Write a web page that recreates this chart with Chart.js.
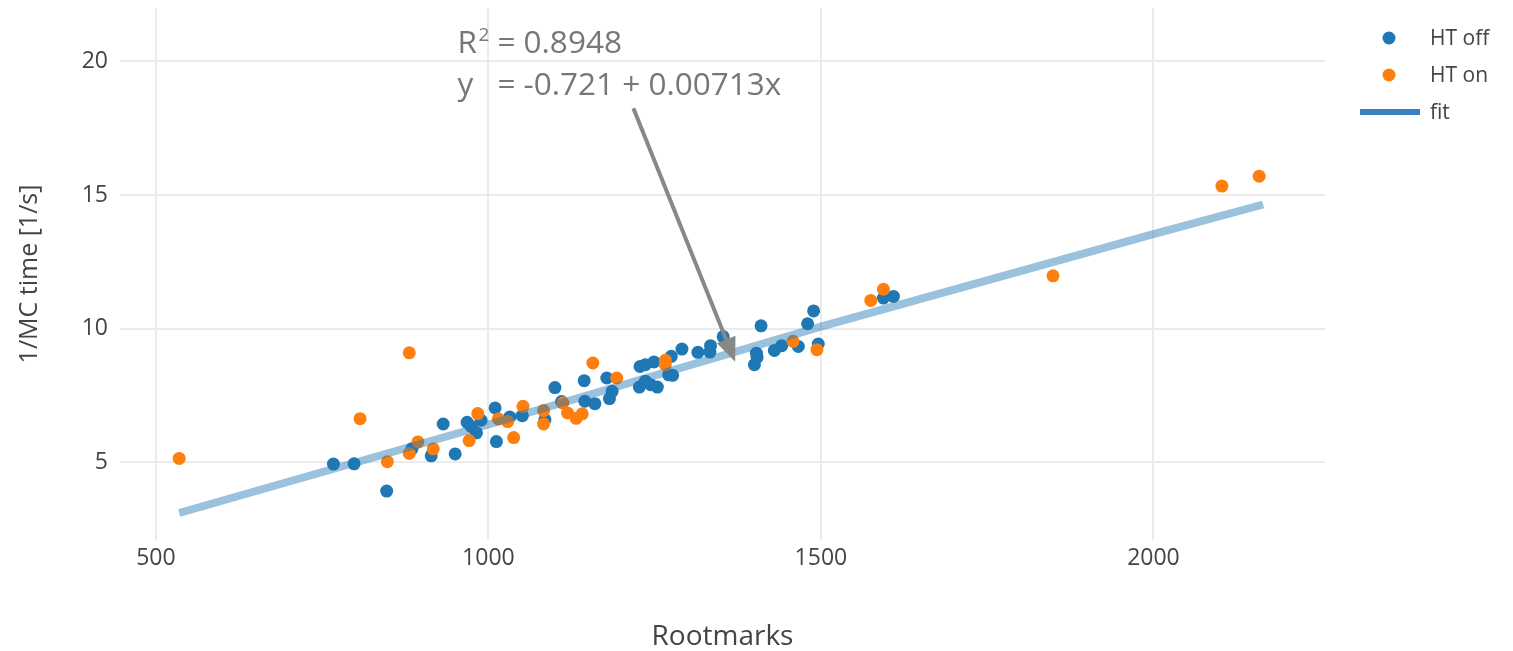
<!DOCTYPE html>
<html>
<head>
<meta charset="utf-8">
<script src="https://cdn.jsdelivr.net/npm/chart.js@4.4.1/dist/chart.umd.min.js"></script>
<style>
    html, body { margin: 0; padding: 0; background: #fff; }
</style>
</head>
<body>
<canvas id="fitChart" width="1513" height="651"></canvas>
<script>
// Data
const htOffX = [767, 798, 847, 885, 914, 932, 950, 968, 974, 982, 989, 1010, 1012, 1032, 1051, 1085, 1100, 1110,
    1144, 1145, 1160, 1178, 1182, 1186, 1227, 1228, 1236, 1236, 1244, 1249, 1254, 1271, 1275, 1277, 1291, 1315,
    1334, 1333, 1353, 1400, 1403, 1404, 1410, 1430, 1441, 1466, 1480, 1489, 1496, 1594, 1609];
const htOffY = [4.94, 4.95, 3.93, 5.51, 5.25, 6.44, 5.32, 6.50, 6.35, 6.11, 6.58, 7.04, 5.78, 6.70, 6.75, 6.60, 7.80, 7.28,
    8.06, 7.29, 7.20, 8.16, 7.39, 7.66, 7.82, 8.59, 8.66, 8.04, 7.91, 8.76, 7.82, 8.28, 8.97, 8.26, 9.24, 9.12,
    9.37, 9.13, 9.71, 8.66, 9.09, 8.93, 10.11, 9.19, 9.37, 9.34, 10.19, 10.67, 9.43, 11.15, 11.21];

const htOnX = [535, 807, 848, 881, 881, 894, 917, 971, 984, 1015, 1029, 1038, 1052, 1083, 1083, 1112, 1119, 1132,
    1141, 1157, 1193, 1266, 1266, 1458, 1494, 1575, 1594, 1849, 2103, 2159];
const htOnY = [5.15, 6.64, 5.03, 5.34, 9.10, 5.77, 5.51, 5.82, 6.83, 6.63, 6.53, 5.93, 7.10, 6.94, 6.44, 7.22, 6.85, 6.65,
    6.82, 8.72, 8.16, 8.82, 8.66, 9.53, 9.22, 11.06, 11.48, 11.98, 15.34, 15.71];

// fit line as drawn in the picture
const fitX = [535, 1000, 1500, 2000, 2165];
const fitY = [3.11, 6.42, 10.08, 13.54, 14.65];

const xTicks = [500, 1000, 1500, 2000];
const yTicks = [5, 10, 15, 20];

// annotation text and arrow (data coords)
const fitR2 = "0.8948";
const fitEquation = "= -0.721 + 0.00713x";
const arrowFrom = [1218, 18.25];
const arrowTo = [1371, 8.77];

const toPoints = (xs, ys) => xs.map((x, i) => ({ x: x, y: ys[i] }));

Chart.defaults.font.family = '"Open Sans", sans-serif';
Chart.defaults.color = "#444";

// Draws the R^2 / equation text with its arrow
const annotationPlugin = {
    id: "fitAnnotation",
    afterDatasetsDraw(chart) {
        const ctx = chart.ctx;
        const xs = chart.scales.x, ys = chart.scales.y;
        const tx = xs.getPixelForValue(arrowFrom[0]), ty = ys.getPixelForValue(arrowFrom[1]);
        const hx = xs.getPixelForValue(arrowTo[0]), hy = ys.getPixelForValue(arrowTo[1]);

        ctx.save();
        // arrow
        const dx = hx - tx, dy = hy - ty;
        const len = Math.sqrt(dx * dx + dy * dy);
        const ux = dx / len, uy = dy / len;
        const headLen = 24, headHalf = 10;
        ctx.strokeStyle = "#888";
        ctx.fillStyle = "#888";
        ctx.lineWidth = 4;
        ctx.beginPath();
        ctx.moveTo(tx, ty);
        ctx.lineTo(hx - ux * headLen, hy - uy * headLen);
        ctx.stroke();
        ctx.beginPath();
        ctx.moveTo(hx, hy);
        ctx.lineTo(hx - ux * headLen - uy * headHalf, hy - uy * headLen + ux * headHalf);
        ctx.lineTo(hx - ux * headLen + uy * headHalf, hy - uy * headLen - ux * headHalf);
        ctx.closePath();
        ctx.fill();

        // text
        ctx.fillStyle = "#777";
        ctx.textBaseline = "alphabetic";
        ctx.textAlign = "left";
        const col1 = tx - 176, col2 = tx - 136;
        ctx.font = '31.5px "Open Sans", sans-serif';
        ctx.fillText("R", col1, ty - 55);
        ctx.fillText("= " + fitR2, col2, ty - 55);
        ctx.fillText("y", col1, ty - 13);
        ctx.fillText(fitEquation, col2, ty - 13);
        ctx.font = '19px "Open Sans", sans-serif';
        ctx.fillText("2", col1 + 21, ty - 67);
        ctx.restore();
    }
};

// Legend at top right: two dots and a line sample
const legendPlugin = {
    id: "sideLegend",
    afterDraw(chart) {
        const ctx = chart.ctx;
        const x0 = chart.chartArea.right + 35;
        const textX = x0 + 70;
        let y = 38;
        ctx.save();
        ctx.font = '21px "Open Sans", sans-serif';
        ctx.textBaseline = "middle";
        ctx.textAlign = "left";
        chart.data.datasets.forEach(ds => {
            if (ds.showLine) {
                ctx.strokeStyle = "#3a7fc0";
                ctx.lineWidth = 6;
                ctx.beginPath();
                ctx.moveTo(x0, y);
                ctx.lineTo(x0 + 60, y);
                ctx.stroke();
            } else {
                ctx.fillStyle = ds.backgroundColor;
                ctx.beginPath();
                ctx.arc(x0 + 29, y, 6.5, 0, Math.PI * 2);
                ctx.fill();
            }
            ctx.fillStyle = "#444";
            ctx.fillText(ds.label, textX, y + 1);
            y += 37;
        });
        ctx.restore();
    }
};

const ctxFit = document.getElementById("fitChart").getContext("2d");
const fitChart = new Chart(ctxFit, {
    type: "scatter",
    data: {
        datasets: [
            {
                label: "HT off",
                data: toPoints(htOffX, htOffY),
                backgroundColor: "#1f77b4",
                borderWidth: 0,
                pointRadius: 6.5,
                order: 3
            },
            {
                label: "HT on",
                data: toPoints(htOnX, htOnY),
                backgroundColor: "#ff7f0e",
                borderWidth: 0,
                pointRadius: 6.5,
                order: 2
            },
            {
                label: "fit",
                data: toPoints(fitX, fitY),
                showLine: true,
                borderColor: "rgba(31, 119, 180, 0.45)",
                borderWidth: 8,
                pointRadius: 0,
                order: 1
            }
        ]
    },
    options: {
        responsive: false,
        animation: false,
        layout: { padding: { left: 0, right: 188, top: 8, bottom: 0 } },
        plugins: {
            legend: { display: false },
            tooltip: { enabled: false }
        },
        scales: {
            x: {
                min: 446,
                max: 2258,
                afterBuildTicks: scale => { scale.ticks = xTicks.map(v => ({ value: v })); },
                afterFit: scale => { scale.height = 111; scale.paddingLeft = 0; scale.paddingRight = 0; },
                grid: { color: "#ebebeb", lineWidth: 2, drawTicks: false },
                border: { display: false },
                ticks: { font: { size: 23 }, padding: 5, maxRotation: 0, callback: v => String(v) },
                title: { display: true, text: "Rootmarks", font: { size: 28, lineHeight: 1 }, padding: { top: 0, bottom: 0 } }
            },
            y: {
                min: 2.1,
                max: 22,
                afterBuildTicks: scale => { scale.ticks = yTicks.map(v => ({ value: v })); },
                afterFit: scale => { scale.width = 120; scale.paddingTop = 0; scale.paddingBottom = 0; },
                grid: { color: "#ebebeb", lineWidth: 2, drawTicks: false },
                border: { display: false },
                ticks: { font: { size: 23 }, padding: 12, callback: v => String(v) },
                title: { display: true, text: "1/MC time [1/s]", font: { size: 25 }, padding: { top: 15, bottom: 0 } }
            }
        }
    },
    plugins: [annotationPlugin, legendPlugin]
});
</script>
</body>
</html>
